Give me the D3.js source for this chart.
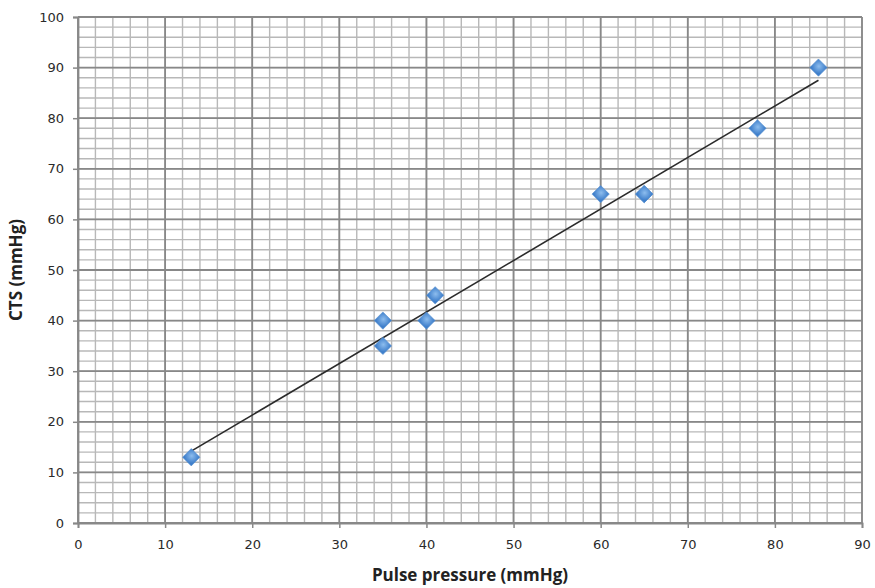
<!DOCTYPE html>
<html>
<head>
<meta charset="utf-8">
<script src="https://cdnjs.cloudflare.com/ajax/libs/d3/7.8.5/d3.min.js"></script>
<style>
  body { margin: 0; background: #fff; }
  svg { display: block; }
</style>
</head>
<body>
<svg id="chart" width="875" height="588"></svg>
<script>
// data
const pulsePressure = [13, 35, 35, 40, 41, 60, 65, 65, 78, 85];
const cts = [13, 40, 35, 40, 45, 65, 65, 65, 78, 90];
const xTicks = [0, 10, 20, 30, 40, 50, 60, 70, 80, 90];
const yTicks = [0, 10, 20, 30, 40, 50, 60, 70, 80, 90, 100];

const svg = d3.select('#chart');
const plotLeft = 78, plotRight = 862, plotTop = 17, plotBottom = 523;

const x = d3.scaleLinear().domain([0, 90]).range([plotLeft, plotRight]);
const y = d3.scaleLinear().domain([0, 100]).range([plotBottom, plotTop]);

// minor grid every 2
const grid = svg.append('g');
grid.selectAll('line.vmin').data(d3.range(0, 91, 2)).join('line')
  .attr('x1', d => x(d)).attr('x2', d => x(d))
  .attr('y1', plotTop).attr('y2', plotBottom)
  .attr('stroke', '#b8b8b8').attr('stroke-width', 1.4);
grid.selectAll('line.hmin').data(d3.range(0, 101, 2)).join('line')
  .attr('y1', d => y(d)).attr('y2', d => y(d))
  .attr('x1', plotLeft).attr('x2', plotRight)
  .attr('stroke', '#b8b8b8').attr('stroke-width', 1.4);
// major grid
grid.selectAll('line.vmaj').data(xTicks).join('line')
  .attr('x1', d => x(d)).attr('x2', d => x(d))
  .attr('y1', plotTop).attr('y2', plotBottom)
  .attr('stroke', '#888').attr('stroke-width', 1.8);
grid.selectAll('line.hmaj').data(yTicks).join('line')
  .attr('y1', d => y(d)).attr('y2', d => y(d))
  .attr('x1', plotLeft).attr('x2', plotRight)
  .attr('stroke', '#888').attr('stroke-width', 1.8);

// axes
const xAxis = svg.append('g')
  .attr('transform', `translate(0,${plotBottom})`)
  .call(d3.axisBottom(x).tickValues(xTicks).tickSize(5).tickPadding(12));
const yAxis = svg.append('g')
  .attr('transform', `translate(${plotLeft},0)`)
  .call(d3.axisLeft(y).tickValues(yTicks).tickSize(5).tickPadding(9));
[xAxis, yAxis].forEach(a => {
  a.select('.domain').attr('stroke', '#888').attr('stroke-width', 1.8);
  a.selectAll('.tick line').attr('stroke', '#888').attr('stroke-width', 1.5);
  a.selectAll('text').attr('fill', '#2a2a2a').style('font-family', 'DejaVu Sans, sans-serif').style('font-size', '13px');
});

// trendline (least squares of the points)
const mx = d3.mean(pulsePressure), my = d3.mean(cts);
const slope = d3.sum(pulsePressure, (v, i) => (v - mx) * (cts[i] - my)) /
              d3.sum(pulsePressure, v => (v - mx) * (v - mx));
const icpt = my - slope * mx;
const ext = d3.extent(pulsePressure);
svg.append('line')
  .attr('x1', x(ext[0])).attr('y1', y(icpt + slope * ext[0]))
  .attr('x2', x(ext[1])).attr('y2', y(icpt + slope * ext[1]))
  .attr('stroke', '#2b2b2b').attr('stroke-width', 1.6);

// markers
const defs = svg.append('defs');
const grad = defs.append('radialGradient').attr('id', 'mk').attr('cx', '45%').attr('cy', '40%').attr('r', '60%');
grad.append('stop').attr('offset', '0%').attr('stop-color', '#8dbdee');
grad.append('stop').attr('offset', '100%').attr('stop-color', '#3f7fcb');

const pts = pulsePressure.map((v, i) => ({ px: v, cy: cts[i] }));
svg.append('g').selectAll('path').data(pts).join('path')
  .attr('transform', d => `translate(${x(d.px)},${y(d.cy)}) rotate(45)`)
  .attr('d', d3.symbol().type(d3.symbolSquare).size(150))
  .attr('fill', 'url(#mk)')
  .attr('stroke', '#5a92d0').attr('stroke-width', 0.6)
  .attr('stroke-linejoin', 'round');

// axis titles
svg.append('text')
  .attr('x', (plotLeft + plotRight) / 2).attr('y', 581)
  .attr('text-anchor', 'middle')
  .style('font-family', 'Open Sans, sans-serif').style('font-size', '17px').style('font-weight', 'bold')
  .attr('fill', '#222')
  .text('Pulse pressure (mmHg)');
svg.append('text')
  .attr('transform', `translate(22,${(plotTop + plotBottom) / 2}) rotate(-90)`)
  .attr('text-anchor', 'middle')
  .style('font-family', 'Open Sans, sans-serif').style('font-size', '17px').style('font-weight', 'bold')
  .attr('fill', '#222')
  .text('CTS (mmHg)');
</script>
</body>
</html>
